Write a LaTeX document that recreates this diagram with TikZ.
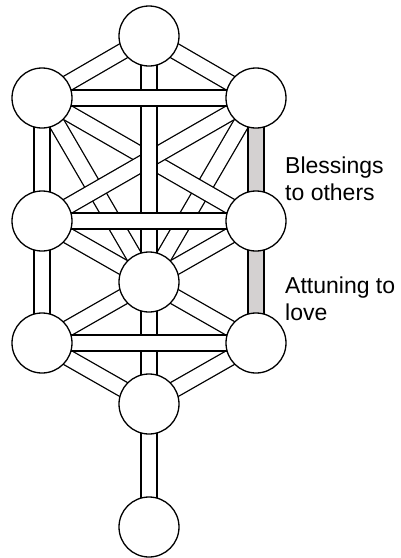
\documentclass[tikz,border=0pt]{standalone}
\usepackage{fontspec}
\setmainfont{Liberation Sans}
\usetikzlibrary{backgrounds}
\definecolor{pathgray}{RGB}{212,209,209}

\begin{document}
\begin{tikzpicture}[x=1pt,y=-1pt,
  sefira/.style={circle,draw,line width=1.3pt,fill=white,minimum size=60pt,inner sep=0pt},
  pathbar/.style={line width=1.3pt,double=white,double distance=14.5pt},
  graybar/.style={pathbar,double=pathgray},
  note/.style={anchor=base west,inner sep=0pt,font=\fontsize{23}{27}\selectfont}]
  \useasboundingbox (0,0) rectangle (401,558);
  % the ten circles
  \node[sefira] (kether) at (149,36) {};
  \node[sefira] (binah) at (42,98) {};
  \node[sefira] (chokmah) at (256,98) {};
  \node[sefira] (geburah) at (42,221) {};
  \node[sefira] (chesed) at (256,221) {};
  \node[sefira] (tiphareth) at (149,282) {};
  \node[sefira] (hod) at (42,343) {};
  \node[sefira] (netzach) at (256,343) {};
  \node[sefira] (yesod) at (149,404) {};
  \node[sefira] (malkuth) at (149,527) {};
  % paths, back to front
  \begin{scope}[on background layer]
    \foreach \a/\b in {binah/tiphareth,chokmah/tiphareth,binah/chesed,chokmah/geburah,
      kether/binah,kether/chokmah,geburah/tiphareth,chesed/tiphareth,
      hod/tiphareth,netzach/tiphareth,hod/yesod,netzach/yesod,
      kether/tiphareth,tiphareth/yesod,yesod/malkuth,
      binah/chokmah,geburah/chesed,hod/netzach,
      binah/geburah,geburah/hod}
      \draw[pathbar] (\a.center) -- (\b.center);
    \draw[graybar] (chokmah.center) -- (chesed.center);
    \draw[graybar] (chesed.center) -- (netzach.center);
  \end{scope}
  % labels
  \node[note] (blessings) at (285,173) {Blessings};
  \node[note] (others) at (285,200) {to others};
  \node[note] (attuning) at (285,293) {Attuning to};
  \node[note] (love) at (285,320) {love};
\end{tikzpicture}
\end{document}
